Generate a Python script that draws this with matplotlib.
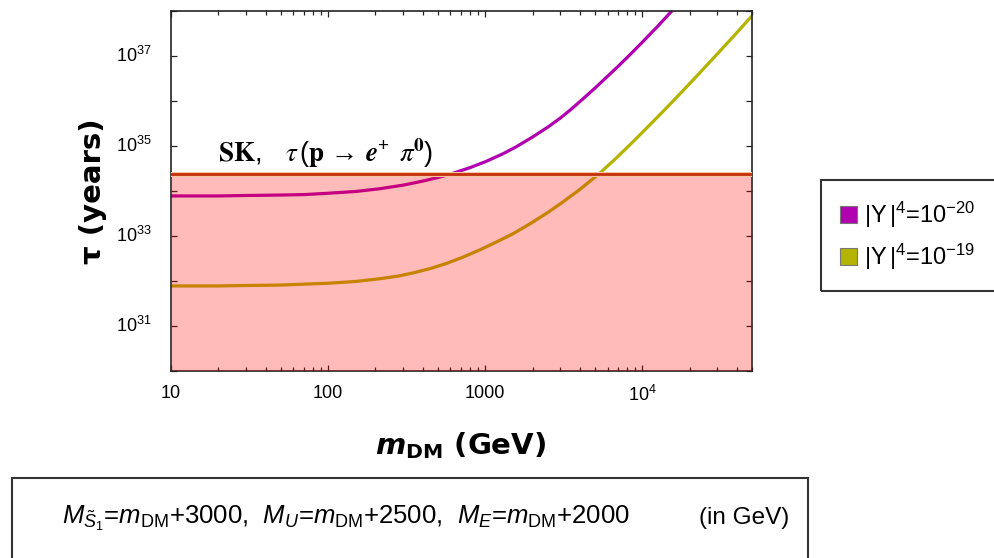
import matplotlib
matplotlib.use("Agg")
import matplotlib.pyplot as plt
import matplotlib.patheffects as pe
from matplotlib.patches import Rectangle
from matplotlib.ticker import FixedLocator, FixedFormatter, LogLocator, NullFormatter

plt.rcParams['font.family'] = ['Liberation Sans', 'DejaVu Sans']
plt.rcParams['mathtext.fontset'] = 'custom'
plt.rcParams['mathtext.rm'] = 'Liberation Sans'
plt.rcParams['mathtext.it'] = 'Liberation Sans:italic'
plt.rcParams['mathtext.bf'] = 'Liberation Sans:bold'
plt.rcParams['mathtext.bfit'] = 'Liberation Sans:bold:italic'
plt.rcParams['mathtext.default'] = 'regular'

# ---------------- data ----------------
# |Y|^4 = 1e-20  (magenta) : m_DM [GeV], log10(tau / years)
m_y20 = [10, 20, 30, 50, 70, 100, 150, 213, 300, 400, 500, 594, 800, 1000, 1300, 1578,
         2000, 2500, 3000, 3500, 4160, 5000, 6000, 7000, 8500, 10000, 12500, 15240, 18000, 22000]
logtau_y20 = [33.89, 33.89, 33.90, 33.91, 33.92, 33.95, 33.99, 34.05, 34.13, 34.22, 34.30, 34.37,
              34.52, 34.65, 34.83, 34.985, 35.20, 35.42, 35.62, 35.81, 36.04, 36.29, 36.55, 36.77,
              37.06, 37.31, 37.66, 37.985, 38.26, 38.60]

# |Y|^4 = 1e-19  (olive)
m_y19 = [10, 20, 30, 50, 70, 100, 150, 213, 280, 347, 450, 566, 720, 921, 1150, 1500, 1900,
         2444, 3100, 3981, 5330, 6800, 8690, 11000, 14160, 18000, 23070, 30000, 37580, 50000]
logtau_y19 = [31.89, 31.89, 31.90, 31.91, 31.93, 31.95, 31.99, 32.05, 32.11, 32.18, 32.28, 32.39,
              32.53, 32.69, 32.85, 33.05, 33.26, 33.50, 33.75, 34.03, 34.39, 34.73, 35.09, 35.45,
              35.84, 36.22, 36.62, 37.05, 37.42, 37.90]

tau_SK = 2.4e34
x_range = [10, 5e4]
y_range = [1e30, 1e38]

series_labels = [r"$|\mathrm{Y}\,|^{4}$=10$^{-20}$", r"$|\mathrm{Y}\,|^{4}$=10$^{-19}$"]
series_colors = ['#B000B0', '#B3B300']

xtick_vals = [10, 100, 1000, 10000]
xtick_labels = ['10', '100', '1000', r'$10^{4}$']
ytick_label_vals = [1e31, 1e33, 1e35, 1e37]
ytick_labels = [r'$10^{31}$', r'$10^{33}$', r'$10^{35}$', r'$10^{37}$']

tau_y20 = [10.0 ** v for v in logtau_y20]
tau_y19 = [10.0 ** v for v in logtau_y19]

# ---------------- figure ----------------
fig = plt.figure(figsize=(9.95, 5.58), dpi=100)
ax = fig.add_axes([171/995, 1 - 371/558, (752.3 - 171)/995, 360/558])
ax.set_xscale('log')
ax.set_yscale('log')
ax.set_xlim(*x_range)
ax.set_ylim(*y_range)

ax.plot(m_y20, tau_y20, color=series_colors[0], lw=2.3, zorder=2, solid_joinstyle='round')
ax.plot(m_y19, tau_y19, color=series_colors[1], lw=2.3, zorder=2, solid_joinstyle='round')

# excluded region (drawn over the curves, semi-transparent)
ax.axhspan(y_range[0], tau_SK, color=(1.0, 0.0, 0.0), alpha=0.27, lw=0, zorder=3)
ax.axhline(tau_SK, color='#C42E08', lw=2.0, zorder=4,
           path_effects=[pe.Stroke(linewidth=3.6, foreground='#F4C49C'), pe.Normal()])

ax.text(20, 10**34.644,
        r"$\mathbf{SK},\ \ \ \mathit{\tau}\,(\mathbf{p}\,\rightarrow\,\mathbfit{e}^{+}\ \,\mathit{\pi}^{\mathbf{0}})$",
        fontsize=19.5, math_fontfamily='stix', va='baseline', ha='left', zorder=5)

# ticks
ax.xaxis.set_major_locator(FixedLocator(xtick_vals))
ax.xaxis.set_major_formatter(FixedFormatter(xtick_labels))
ax.xaxis.set_minor_locator(LogLocator(base=10, subs=range(2, 10), numticks=20))
ax.xaxis.set_minor_formatter(NullFormatter())
ax.yaxis.set_major_locator(LogLocator(base=10, numticks=20))
ax.yaxis.set_minor_locator(FixedLocator([]))
ax.yaxis.set_major_formatter(NullFormatter())
for v, lab in zip(ytick_label_vals, ytick_labels):
    ax.text(-0.034, v, lab, transform=ax.get_yaxis_transform(), ha='right', va='center', fontsize=13)

ax.tick_params(which='both', direction='in', top=True, right=True, width=0.9, color='#222222')
ax.tick_params(which='major', length=4.0, labelsize=13, pad=10)
ax.tick_params(which='minor', length=2.6)
for s in ax.spines.values():
    s.set_linewidth(1.2)
    s.set_color('#222222')

ax.set_ylabel("τ (years)", fontsize=21, fontweight='bold', family='DejaVu Sans')
ax.yaxis.set_label_coords(-0.11, 0.5)
ax.set_xlabel(r"$\mathbfit{m}_{\mathbf{DM}}$ (GeV)", fontsize=21, fontweight='bold',
              family='DejaVu Sans', math_fontfamily='dejavusans')
ax.xaxis.set_label_coords(0.499, -0.165)

# ---------------- legend box ----------------
fig.patches.append(Rectangle((821/995, 1 - 291/558), 0.2, 111/558, transform=fig.transFigure,
                             fill=False, edgecolor='#333333', lw=1.5, figure=fig))
for i, (lab, col) in enumerate(zip(series_labels, series_colors)):
    yc = 1 - (214.5 + i * 42) / 558
    fig.patches.append(Rectangle((840/995, yc - 8.5/558), 17/995, 17/558, transform=fig.transFigure,
                                 facecolor=col, edgecolor='#777777', lw=0.8, figure=fig))
    fig.text(864/995, yc, lab, fontsize=17, va='center', ha='left')

# ---------------- bottom parameter box ----------------
fig.patches.append(Rectangle((12/995, -0.02), (808 - 12)/995, 0.02 + (558 - 478)/558,
                             transform=fig.transFigure, fill=False, edgecolor='#333333', lw=1.5, figure=fig))
fig.text(62/995, 1 - 524/558,
         r"$\mathit{M}_{\tilde{\mathit{S}}_{1}}$=$\mathit{m}_{\mathrm{DM}}$+3000,  "
         r"$\mathit{M}_{\mathit{U}}$=$\mathit{m}_{\mathrm{DM}}$+2500,  "
         r"$\mathit{M}_{\mathit{E}}$=$\mathit{m}_{\mathrm{DM}}$+2000",
         fontsize=18.5, va='baseline', ha='left')
fig.text(789/995, 1 - 524/558, "(in GeV)", fontsize=17.5, va='baseline', ha='right')

fig.savefig("out.png", dpi=100)
